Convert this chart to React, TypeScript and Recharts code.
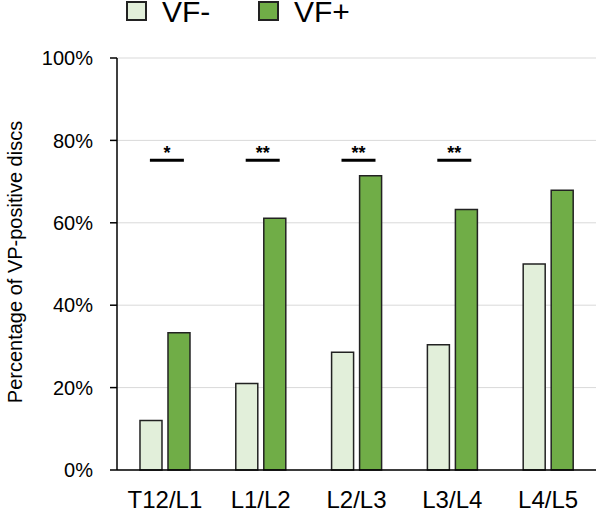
import { ComposedChart, Bar, Line, XAxis, YAxis, CartesianGrid } from 'recharts';

const discLevels = ['T12/L1', 'L1/L2', 'L2/L3', 'L3/L4', 'L4/L5'];
const vfNegative = [12.0, 21.0, 28.6, 30.4, 50.0];
const vfPositive = [33.3, 61.1, 71.4, 63.2, 67.9];
const sigMarks = ['*', '**', '**', '**', ''];
const sigLevel = 75.2;

const yTicks = [0, 20, 40, 60, 80, 100];

const LIGHT = '#e2efda';
const GREEN = '#70ad47';

// bar table built from the arrays above
const chartData = discLevels.map((level, i) => ({
  level,
  neg: vfNegative[i],
  pos: vfPositive[i],
  sig: sigMarks[i] ? sigLevel : null,
  mark: sigMarks[i],
}));

// significance bracket: short bar with asterisks above
const SigDot = (props: any) => {
  const { cx, cy, payload } = props;
  if (cx == null || cy == null || !payload.mark) return null;
  return (
    <g key={`sig-${payload.level}`}>
      <line x1={cx - 15} x2={cx + 19} y1={cy} y2={cy} stroke="#000" strokeWidth={3} />
      <text x={cx + 2} y={cy - 1} textAnchor="middle" fontSize={18} fontWeight="bold" fill="#000">
        {payload.mark}
      </text>
    </g>
  );
};

const font = '"Liberation Sans", Arial, sans-serif';

const YLabel = () => (
  <text
    x={15}
    y={262}
    transform="rotate(-90 15 262)"
    textAnchor="middle"
    dominantBaseline="central"
    fontSize={20}
    fill="#000"
  >
    Percentage of VP-positive discs
  </text>
);

export default function App() {
  return (
    <div style={{ position: 'absolute', left: 0, top: 0, width: 596, height: 509, background: '#fff', fontFamily: font }}>
      {/* legend */}
      <div style={{ position: 'absolute', left: 126, top: 1, width: 21, height: 20, background: LIGHT, border: '2px solid #222', boxSizing: 'border-box' }} />
      <div style={{ position: 'absolute', left: 162, top: -3, fontSize: 30, lineHeight: '30px', color: '#000' }}>VF-</div>
      <div style={{ position: 'absolute', left: 258, top: 1, width: 21, height: 20, background: GREEN, border: '2px solid #222', boxSizing: 'border-box' }} />
      <div style={{ position: 'absolute', left: 294, top: -3, fontSize: 30, lineHeight: '30px', color: '#000' }}>VF+</div>

      <ComposedChart
        width={596}
        height={509}
        data={chartData}
        margin={{ top: 58, right: 0, bottom: 0, left: 0 }}
        barCategoryGap="24%"
        barGap={6}
        style={{ fontFamily: font }}
      >
        <CartesianGrid vertical={false} stroke="#d9d9d9" strokeWidth={1} />
        <XAxis
          dataKey="level"
          height={39}
          tickLine={false}
          tickSize={0}
          tickMargin={21}
          axisLine={{ stroke: '#000', strokeWidth: 1.5 }}
          tick={{ fontSize: 24, fill: '#000' }}
          interval={0}
        />
        <YAxis
          width={117}
          domain={[0, 100]}
          ticks={yTicks}
          tickFormatter={(v: number) => `${v}%`}
          tickSize={7}
          tickMargin={17}
          axisLine={{ stroke: '#000', strokeWidth: 1.5 }}
          tickLine={{ stroke: '#000', strokeWidth: 1.5 }}
          tick={{ fontSize: 20, fill: '#000' }}
          label={<YLabel />}
        />
        <Bar dataKey="neg" fill={LIGHT} stroke="#222" strokeWidth={1.5} isAnimationActive={false} />
        <Bar dataKey="pos" fill={GREEN} stroke="#222" strokeWidth={1.5} isAnimationActive={false} />
        <Line
          dataKey="sig"
          stroke="none"
          dot={<SigDot />}
          activeDot={false}
          connectNulls={false}
          isAnimationActive={false}
        />
      </ComposedChart>
    </div>
  );
}
